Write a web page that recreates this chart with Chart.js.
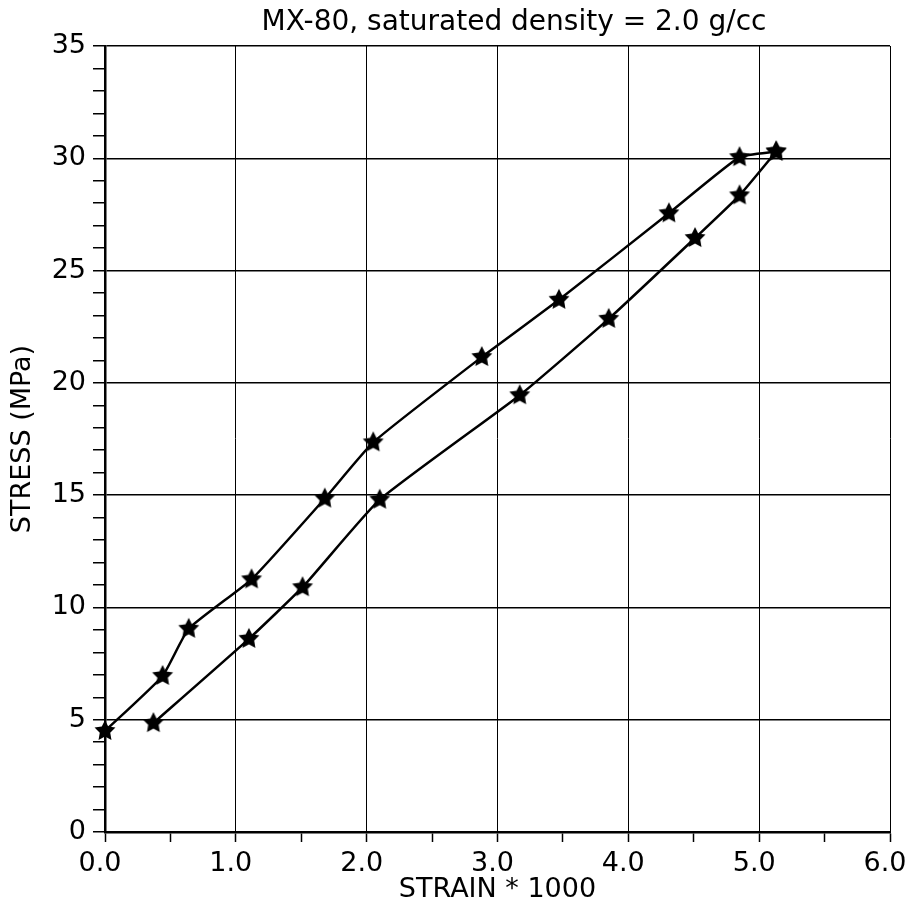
<!DOCTYPE html>
<html>
<head>
<meta charset="utf-8">
<script src="https://cdn.jsdelivr.net/npm/chart.js@4"></script>
<style>
  body { margin: 0; background: #fff; }
  #wrap { width: 909px; height: 912px; }
</style>
</head>
<body>
<div id="wrap"><canvas id="chart" width="909" height="912"></canvas></div>
<script>
// loading branch (upper curve)
const loadStrain = [0, 0.44, 0.64, 1.12, 1.68, 2.05, 2.88, 3.47, 4.31, 4.85, 5.13];
const loadStress = [4.5, 6.95, 9.05, 11.25, 14.85, 17.35, 21.15, 23.7, 27.55, 30.05, 30.3];
// unloading branch (lower curve)
const unloadStrain = [0.37, 1.10, 1.51, 2.10, 3.17, 3.85, 4.51, 4.85, 5.13];
const unloadStress = [4.85, 8.6, 10.9, 14.8, 19.45, 22.85, 26.45, 28.35, 30.3];

const titleText = "MX-80, saturated density = 2.0 g/cc";
const xTitle = "STRAIN * 1000";
const yTitle = "STRESS (MPa)";

// filled five point star marker
function makeStar(r) {
  const c = document.createElement("canvas");
  const s = Math.ceil(r * 2 + 2);
  c.width = s; c.height = s;
  const g = c.getContext("2d");
  g.translate(s / 2, s / 2);
  g.beginPath();
  for (let i = 0; i < 10; i++) {
    const rad = i % 2 === 0 ? r : r * 0.5;
    const a = -Math.PI / 2 + i * Math.PI / 5;
    g.lineTo(rad * Math.cos(a), rad * Math.sin(a));
  }
  g.closePath();
  g.fillStyle = "#000";
  g.fill();
  return c;
}
const star = makeStar(11);

function pts(xs, ys) {
  return xs.map((x, i) => ({ x: x, y: ys[i] }));
}

const titlePlugin = {
  id: "topTitle",
  afterDraw(chart) {
    const ctx = chart.ctx;
    ctx.save();
    ctx.font = "28px 'DejaVu Sans'";
    ctx.fillStyle = "#000";
    ctx.textAlign = "center";
    ctx.textBaseline = "alphabetic";
    ctx.fillText(titleText, 514, 30);
    ctx.restore();
  }
};

const font = { family: "DejaVu Sans", size: 27 };

new Chart(document.getElementById("chart").getContext("2d"), {
  type: "line",
  data: {
    datasets: [
      {
        data: pts(loadStrain, loadStress),
        borderColor: "#000",
        borderWidth: 2.5,
        pointStyle: star,
        tension: 0.15,
        clip: false,
        fill: false
      },
      {
        data: pts(unloadStrain, unloadStress),
        borderColor: "#000",
        borderWidth: 2.5,
        pointStyle: star,
        tension: 0.15,
        clip: false,
        fill: false
      }
    ]
  },
  options: {
    responsive: false,
    animation: false,
    layout: { padding: { top: 46, right: 19, left: 0, bottom: 0 } },
    plugins: { legend: { display: false }, tooltip: { enabled: false } },
    scales: {
      x: {
        type: "linear",
        min: 0, max: 6,
        afterFit: (s) => { s.height = 80; s.paddingLeft = 0; s.paddingRight = 0; },
        ticks: {
          stepSize: 0.5, autoSkip: false, maxRotation: 0,
          color: "#000", font: font, padding: 6, labelOffset: -5,
          callback: (v) => (v % 1 === 0 ? v.toFixed(1) : "")
        },
        grid: {
          color: (c) => (c.tick && c.tick.value % 1 === 0 ? "#000" : "rgba(0,0,0,0)"),
          tickColor: "#000",
          lineWidth: 1,
          tickWidth: 1.5,
          tickLength: 10
        },
        border: { color: "#000", width: 2.5 },
        title: { display: true, text: xTitle, color: "#000", font: font, padding: { top: 0, bottom: 6 } }
      },
      y: {
        min: 0, max: 35,
        afterFit: (s) => { s.width = 105; },
        ticks: {
          stepSize: 1, autoSkip: false,
          color: "#000", font: font, padding: 7,
          callback: (v) => (v % 5 === 0 ? v : "")
        },
        grid: {
          color: (c) => (c.tick && c.tick.value % 5 === 0 ? "#000" : "rgba(0,0,0,0)"),
          tickColor: "#000",
          lineWidth: 1.5,
          tickWidth: 1.5,
          tickLength: 12
        },
        border: { color: "#000", width: 2.5 },
        title: { display: true, text: yTitle, color: "#000", font: font, padding: { top: 7 } }
      }
    }
  },
  plugins: [titlePlugin]
});
</script>
</body>
</html>
